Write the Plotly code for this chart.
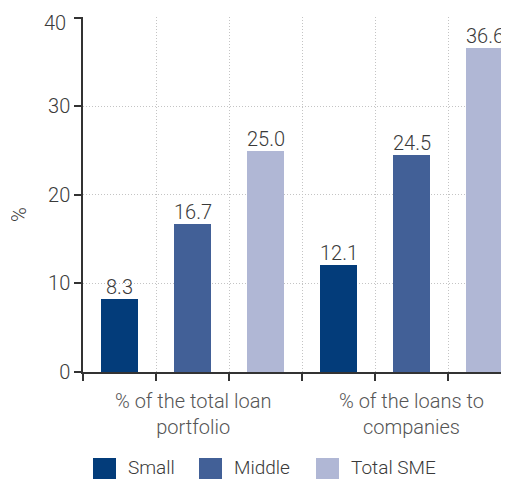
import plotly.graph_objects as go

groups = ["% of the total loan<br>portfolio", "% of the loans to<br>companies"]
series_names = ["Small", "Middle", "Total SME"]
small = [8.3, 12.1]
middle = [16.7, 24.5]
total_sme = [25.0, 36.6]
colors = ["#033c7a", "#426097", "#b0b7d5"]
y_ticks = [0, 10, 20, 30, 40]

values = [small, middle, total_sme]
font = "Roboto, Liberation Sans, Arial, sans-serif"
txt = "#3a3a3a"
fs = 20
W, H = 501, 471
L, T, B = 75, 9, 107
PH = H - T - B
PW = W - L
BOT = T + PH


def px_x(p):
    return (p - L) / PW


def px_y(p):
    return (BOT - p) / PH


fig = go.Figure()
for i, (name, vals) in enumerate(zip(series_names, values)):
    xs = [g * 3 + i + 0.5 for g in range(len(groups))]
    fig.add_trace(go.Bar(
        x=xs, y=vals, name=name, width=0.52, showlegend=False,
        marker=dict(color=colors[i], line=dict(width=0)),
    ))
    for x, v in zip(xs, vals):
        fig.add_annotation(x=x, y=v, xref="x", yref="y", yanchor="bottom", yshift=-2,
                           text=f"{v:.1f}", showarrow=False,
                           font=dict(size=fs, color=txt, family=font, weight=300))

for g, label in enumerate(groups):
    fig.add_annotation(x=g * 3 + 1.5, xref="x", y=-15 / PH, yref="paper", yanchor="top",
                       text=label, showarrow=False,
                       font=dict(size=fs, color="#555555", family=font, weight=300))

fig.add_annotation(x=px_x(11), xref="paper", y=px_y(207), yref="paper",
                   xanchor="center", yanchor="middle", text="%", textangle=-90, height=16,
                   showarrow=False, font=dict(size=fs, color=txt, family=font, weight=300))

# top tick label sits slightly below its tick (as in the reference)
fig.add_annotation(x=px_x(60), xref="paper", y=y_ticks[-1], yref="y",
                   xanchor="right", yanchor="middle", yshift=-5,
                   text=str(y_ticks[-1]), showarrow=False,
                   font=dict(size=fs, color=txt, family=font, weight=300))

# legend drawn as swatches + labels
legend_swatch_x = [85, 191, 308]
for i, name in enumerate(series_names):
    x0 = legend_swatch_x[i]
    fig.add_shape(type="rect", xref="paper", yref="paper",
                  x0=px_x(x0), x1=px_x(x0 + 23), y0=px_y(472), y1=px_y(450),
                  fillcolor=colors[i], line=dict(width=0), layer="above")
    fig.add_annotation(x=px_x(x0 + 33), xref="paper", y=px_y(459), yref="paper",
                       xanchor="left", yanchor="middle", text=name, showarrow=False,
                       font=dict(size=fs - 1, color=txt, family=font, weight=300))

fig.update_layout(
    width=W, height=H,
    margin=dict(l=L, r=0, t=T, b=B, autoexpand=False),
    plot_bgcolor="white", paper_bgcolor="white",
    font=dict(family=font, size=fs, color=txt, weight=300),
    bargap=0,
    showlegend=False,
    xaxis=dict(
        range=[0, PW / 73.0],
        tickvals=[0, 1, 2, 3, 4, 5], ticktext=[""] * 6,
        ticks="outside", ticklen=7, tickcolor="#333333", tickwidth=1.5,
        showgrid=True, gridcolor="#c4c4c4", griddash="1px,2px", gridwidth=1,
        zeroline=False, automargin=False,
        showline=True, linecolor="#333333", linewidth=1.5,
    ),
    yaxis=dict(
        range=[0, 40.1], tickvals=y_ticks,
        ticktext=[str(v) for v in y_ticks[:-1]] + [""],
        ticks="outside", ticklen=7, tickcolor="#333333", tickwidth=1.5,
        showline=True, linecolor="#333333", linewidth=1.5,
        showgrid=True, gridcolor="#c4c4c4", griddash="1px,2px", gridwidth=1,
        zeroline=False, automargin=False, ticklabeloverflow="allow",
        tickfont=dict(size=fs, color=txt, family=font, weight=300),
    ),
)
fig.write_html("out.html")
